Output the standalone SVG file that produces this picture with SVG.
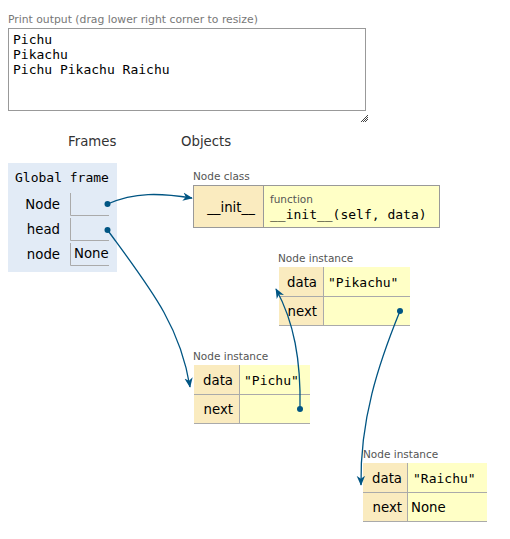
<svg xmlns="http://www.w3.org/2000/svg" width="510" height="539" viewBox="0 0 510 539">
<style>
.sans{font-family:"DejaVu Sans","Verdana",sans-serif;}
.lbl{font-family:"DejaVu Sans",sans-serif;font-size:10.5px;fill:#555;}
.t{font-family:"DejaVu Sans",sans-serif;font-size:13.3px;fill:#000;}
.m{font-family:"DejaVu Sans Mono","Liberation Mono",monospace;font-size:13px;fill:#000;}
.key{fill:#faebbf;}
.val{fill:#ffffc6;}
.ln{stroke:#aaa;stroke-width:1;fill:none;}
.conn{stroke:#005583;stroke-width:1.3;fill:none;}
.dot{fill:#005583;}
</style>
<defs>
<marker id="arr" viewBox="0 0 12 10" refX="11" refY="5" markerWidth="10" markerHeight="9" orient="auto" markerUnits="userSpaceOnUse">
<path d="M0,0 L12,5 L0,10 L3.5,5 z" fill="#005583"/>
</marker>
</defs>
<rect width="510" height="539" fill="#fff"/>

<g id="print-output">
<text x="8" y="23" class="sans" font-size="10.8" fill="#777">Print output (drag lower right corner to resize)</text>
<rect x="8.5" y="28.5" width="357" height="82" fill="#fff" stroke="#999"/>
<text x="13" y="44" class="m">Pichu</text>
<text x="13" y="59" class="m">Pikachu</text>
<text x="13" y="74" class="m">Pichu Pikachu Raichu</text>
<path d="M361,122 L368,115 M363,122 L368,117 M365,122 L368,119" stroke="#444" stroke-width="1"/>
</g>

<text x="68" y="146" class="sans" font-size="13.3" fill="#333">Frames</text>
<text x="181" y="146" class="sans" font-size="13.3" fill="#333">Objects</text>

<g id="global-frame">
<rect x="8" y="163" width="109" height="109" fill="#e2ebf6"/>
<text x="15" y="182" class="m" font-size="13.3">Global frame</text>
<text x="60" y="209" class="t" text-anchor="end">Node</text>
<path class="ln" d="M70.5,193 V215.5 H109"/>
<text x="60" y="234" class="t" text-anchor="end">head</text>
<path class="ln" d="M70.5,218 V240.5 H109"/>
<text x="60" y="259" class="t" text-anchor="end">node</text>
<path class="ln" d="M70.5,243 V265.5 H109"/>
<text x="74" y="258" class="t">None</text>
</g>

<g id="node-class">
<text x="193" y="180" class="lbl">Node class</text>
<rect x="193.5" y="185.5" width="70" height="42" class="key"/>
<rect x="263.5" y="185.5" width="176" height="42" class="val"/>
<rect x="193.5" y="185.5" width="246" height="42" fill="none" stroke="#999"/>
<line x1="263.5" y1="185.5" x2="263.5" y2="227.5" stroke="#999"/>
<text x="231" y="212" class="t" font-size="12.5" text-anchor="middle">__init__</text>
<text x="270" y="203" class="sans" font-size="10.5" fill="#555">function</text>
<text x="270" y="219" class="m">__init__(self, data)</text>
</g>

<g id="pikachu">
<text x="278" y="262" class="lbl">Node instance</text>
<rect x="279" y="267" width="44" height="58" class="key"/>
<rect x="323" y="267" width="87" height="58" class="val"/>
<path class="ln" d="M279,296.5 H410 M279,325.5 H410 M323.5,267 V325"/>
<text x="317" y="287" class="t" text-anchor="end">data</text>
<text x="328" y="287" class="m">"Pikachu"</text>
<text x="317" y="316" class="t" text-anchor="end">next</text>
</g>

<g id="pichu">
<text x="193" y="360" class="lbl">Node instance</text>
<rect x="194" y="365" width="45" height="58" class="key"/>
<rect x="239" y="365" width="71" height="58" class="val"/>
<path class="ln" d="M194,394.5 H310 M194,423.5 H310 M239.5,365 V423"/>
<text x="233" y="385" class="t" text-anchor="end">data</text>
<text x="244" y="385" class="m">"Pichu"</text>
<text x="233" y="414" class="t" text-anchor="end">next</text>
</g>

<g id="raichu">
<text x="363" y="458" class="lbl">Node instance</text>
<rect x="363" y="463" width="44" height="58" class="key"/>
<rect x="407" y="463" width="80" height="58" class="val"/>
<path class="ln" d="M363,492.5 H487 M363,521.5 H487 M407.5,463 V521"/>
<text x="402" y="483" class="t" text-anchor="end">data</text>
<text x="413" y="483" class="m">"Raichu"</text>
<text x="402" y="512" class="t" text-anchor="end">next</text>
<text x="411" y="512" class="t">None</text>
</g>

<g id="connectors">
<path class="conn" d="M107.5,204 C135,192 160,193 192,198" marker-end="url(#arr)"/>
<circle class="dot" cx="107.5" cy="204" r="3"/>
<path class="conn" d="M107.5,230 C150,288 180,325 190,387" marker-end="url(#arr)"/>
<circle class="dot" cx="107.5" cy="230" r="3"/>
<path class="conn" d="M300,409 C301,360 294,322 276,289" marker-end="url(#arr)"/>
<circle class="dot" cx="300" cy="409" r="3"/>
<path class="conn" d="M400,311 C378,365 360,420 361,485" marker-end="url(#arr)"/>
<circle class="dot" cx="400" cy="311" r="3"/>
</g>
</svg>
